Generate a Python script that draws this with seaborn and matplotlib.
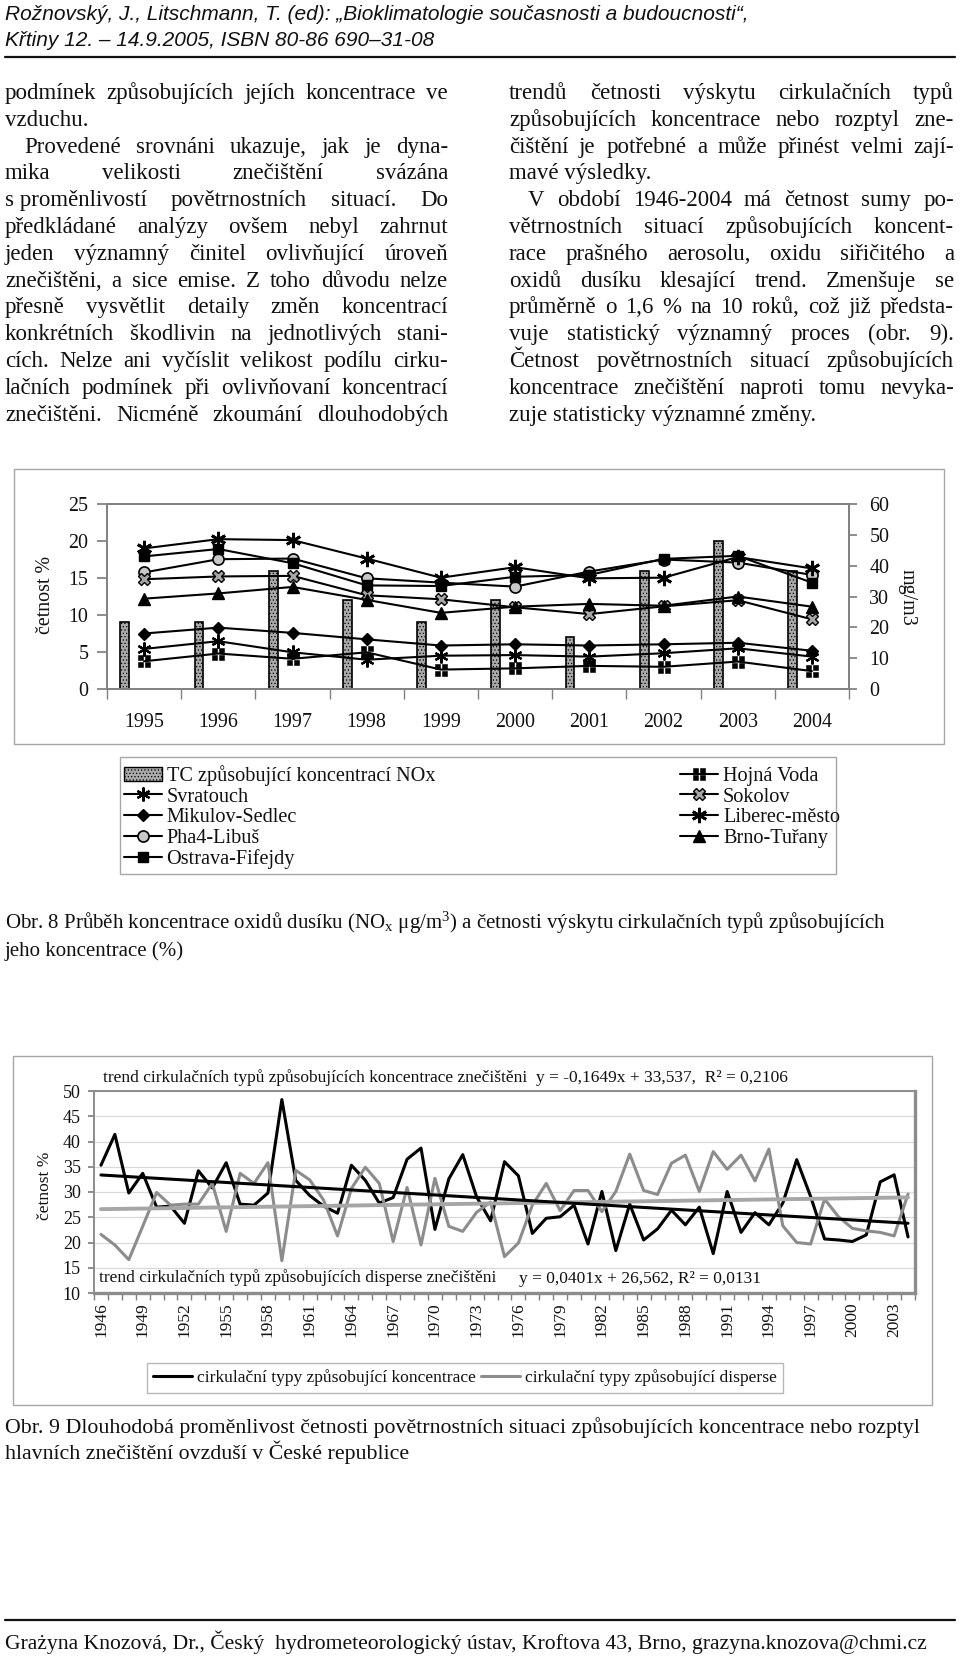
import numpy as np
import matplotlib
matplotlib.use("Agg")
import matplotlib.pyplot as plt
import seaborn as sns
from matplotlib.lines import Line2D
from matplotlib.patches import Patch, Rectangle
from matplotlib.path import Path

# ---- Obr. 8: 1995-2004 ----
years_8 = ["1995", "1996", "1997", "1998", "1999", "2000", "2001", "2002", "2003", "2004"]
tc_nox = [9, 9, 16, 12, 9, 12, 7, 16, 20, 16]          # cetnost % (left axis)
svratouch = [13.0, 15.5, 11.9, 9.5, 10.8, 11.0, 10.5, 11.6, 13.2, 10.5]
mikulov = [18.0, 19.9, 18.2, 16.1, 14.1, 14.5, 14.1, 14.5, 15.0, 12.4]
pha4 = [37.8, 42.1, 42.3, 35.9, 34.5, 33.2, 38.1, 42.0, 41.0, 37.0]
ostrava = [43.0, 45.4, 40.8, 33.6, 33.4, 36.4, 37.0, 42.2, 43.2, 34.5]
hojna = [9.0, 11.5, 9.8, 11.9, 6.3, 6.7, 7.5, 7.2, 8.9, 5.8]
sokolov = [35.6, 36.5, 36.7, 30.4, 29.1, 26.5, 24.3, 26.8, 28.8, 22.6]
liberec = [45.6, 48.6, 48.3, 42.3, 36.1, 39.5, 35.9, 36.1, 42.8, 39.1]
brno = [29.3, 31.0, 33.1, 28.9, 24.7, 26.7, 27.6, 27.0, 30.0, 26.7]

# ---- Obr. 9: 1946-2004 ----
years_9 = list(range(1946, 2005))
koncentrace = [35.3, 41.4, 29.8, 33.7, 27.0, 27.2, 23.8, 34.2, 30.8, 35.8,
               27.6, 27.4, 29.8, 48.3, 32.3, 29.3, 27.2, 25.8, 35.3, 32.3,
               27.8, 28.9, 36.5, 38.7, 22.6, 32.6, 37.4, 29.0, 24.3, 36.0,
               33.2, 21.8, 24.8, 25.1, 27.4, 19.7, 30.1, 18.4, 27.6, 20.5,
               22.7, 26.4, 23.5, 27.0, 17.8, 30.1, 22.0, 25.9, 23.5, 27.8,
               36.4, 29.1, 20.7, 20.5, 20.2, 21.5, 32.0, 33.4, 21.1]
disperse = [21.6, 19.5, 16.6, 23.2, 29.9, 27.4, 27.6, 27.6, 31.7, 22.2,
            33.7, 31.7, 35.8, 16.4, 34.3, 32.4, 28.4, 21.3, 30.7, 34.9,
            31.7, 20.2, 30.9, 19.5, 32.7, 23.2, 22.2, 26.0, 28.0, 17.2,
            19.9, 27.4, 31.7, 26.3, 30.3, 30.3, 26.1, 30.1, 37.5, 30.3,
            29.5, 35.7, 37.3, 30.1, 38.0, 34.5, 37.3, 32.2, 38.5, 23.3,
            20.0, 19.7, 28.6, 25.1, 22.8, 22.3, 22.0, 21.3, 29.6]
trend_koncentrace = (-0.1649, 33.537)
trend_disperse = (0.0401, 26.562)

left_lines = [
    "podmínek způsobujících jejích koncentrace ve",
    "vzduchu.",
    "Provedené srovnáni ukazuje, jak je dyna-",
    "mika velikosti znečištění svázána",
    "s\u00a0proměnlivostí povětrnostních situací. Do",
    "předkládané analýzy ovšem nebyl zahrnut",
    "jeden významný činitel ovlivňující úroveň",
    "znečištěni, a sice emise. Z toho důvodu nelze",
    "přesně vysvětlit detaily změn koncentrací",
    "konkrétních škodlivin na jednotlivých stani-",
    "cích. Nelze ani vyčíslit velikost podílu cirku-",
    "lačních podmínek při ovlivňovaní koncentrací",
    "znečištěni. Nicméně zkoumání dlouhodobých",
]
right_lines = [
    "trendů četnosti výskytu cirkulačních typů",
    "způsobujících koncentrace nebo rozptyl zne-",
    "čištění je potřebné a může přinést velmi zají-",
    "mavé výsledky.",
    "V období 1946-2004 má četnost sumy po-",
    "větrnostních situací způsobujících koncent-",
    "race prašného aerosolu, oxidu siřičitého a",
    "oxidů dusíku klesající trend. Zmenšuje se",
    "průměrně o 1,6 % na 10 roků, což již předsta-",
    "vuje statistický významný proces (obr. 9).",
    "Četnost povětrnostních situací způsobujících",
    "koncentrace znečištění naproti tomu nevyka-",
    "zuje statisticky významné změny.",
]

sns.set_theme(style="white")
plt.rcParams["font.family"] = ["Liberation Serif", "DejaVu Serif"]
plt.rcParams["mathtext.fontset"] = "custom"
plt.rcParams["mathtext.rm"] = "Liberation Serif"
plt.rcParams["mathtext.it"] = "Liberation Serif:italic"
plt.rcParams["hatch.color"] = "#7a7a7a"
plt.rcParams["hatch.linewidth"] = 0.5
plt.rcParams["text.color"] = "#111111"

W, H = 960, 1659
fig = plt.figure(figsize=(W / 100, H / 100), dpi=100)
rend = fig.canvas.get_renderer()


def fx(p):
    return p / W


def fy(p):
    return 1 - p / H


def rect(l, t, r, b):
    return [fx(l), fy(b), (r - l) / W, (b - t) / H]


def px_text(x, y, s, size, **kw):
    kw.setdefault("va", "baseline")
    return fig.text(fx(x), fy(y), s, fontsize=size, **kw)


def fit(t, width):
    w = t.get_window_extent(renderer=rend).width
    t.set_fontsize(t.get_fontsize() * width / w)
    return t.get_fontsize()


def justify(lines, x0, x1, y0, step, size, loose=(), indent=()):
    for k, line in enumerate(lines):
        y = round(y0 + step * k)
        xs = x0 + (19 if k in indent else 0)
        if k in loose:
            px_text(xs, y, line, size)
            continue
        words = line.split(" ")
        ts = [px_text(xs, y, w, size) for w in words]
        ws = [t.get_window_extent(renderer=rend).width for t in ts]
        gap = max((x1 - xs - sum(ws)) / (len(ws) - 1), 2.5)
        x = xs
        for t, w in zip(ts, ws):
            t.set_x(fx(x))
            x += w + gap


def box(l, t, r, b, color="#a6a6a6", lw=1.0):
    fig.add_artist(Rectangle((fx(l), fy(b)), (r - l) / W, (b - t) / H,
                             transform=fig.transFigure, fill=False,
                             edgecolor=color, linewidth=lw))


def rule(y, lw=1.6):
    fig.add_artist(Line2D([fx(5), fx(955)], [fy(y), fy(y)],
                          transform=fig.transFigure, color="#111111", linewidth=lw))


# ---- page header ----
hdr = ["Liberation Sans Narrow", "Liberation Sans"]
h1 = px_text(5, 20, "Rožnovský, J., Litschmann, T. (ed): „Bioklimatologie současnosti a budoucnosti“,",
             15, family=hdr, style="italic")
hs = fit(h1, 744)
px_text(5, 46, "Křtiny 12. – 14.9.2005, ISBN 80-86 690–31-08", hs, family=hdr, style="italic")
rule(57)

# ---- body text ----
justify(left_lines, 5, 448, 99, 26.8, 16.5, loose=(1,), indent=(2,))
justify(right_lines, 509, 954, 99, 26.8, 16.5, loose=(3, 12), indent=(4,))

# ---- Obr. 8 ----
box(14, 469, 944, 744)
ax1 = fig.add_axes(rect(107, 504, 849, 689))
ax2 = ax1.twinx()
xpos = np.arange(len(years_8))

sns.barplot(x=xpos - 0.26, y=tc_nox, native_scale=True, orient="x", width=0.12,
            color="#a9a9a9", saturation=1, edgecolor="black", linewidth=1.2,
            hatch=".....", errorbar=None, ax=ax1)

four_sq = Path.make_compound_path(*[
    Path([(a, b), (a + 0.8, b), (a + 0.8, b + 0.8), (a, b + 0.8), (a, b)],
         [Path.MOVETO, Path.LINETO, Path.LINETO, Path.LINETO, Path.CLOSEPOLY])
    for a in (-1, 0.2) for b in (-1, 0.2)])

base = dict(color="black", linewidth=1.5, markerfacecolor="black",
            markeredgecolor="black", markeredgewidth=1.0)
styles = {
    "Svratouch": dict(marker=(6, 2, 0), markersize=10, markeredgewidth=1.6),
    "Mikulov-Sedlec": dict(marker="D", markersize=6.5),
    "Pha4-Libuš": dict(marker="o", markersize=8, markerfacecolor="#c8c8c8", markeredgewidth=1.2),
    "Ostrava-Fifejdy": dict(marker="s", markersize=7.5),
    "Hojná Voda": dict(marker=four_sq, markersize=8, markeredgewidth=0.4),
    "Sokolov": dict(marker="X", markersize=9, markerfacecolor="#a6a6a6"),
    "Liberec-město": dict(marker=(6, 2, 0), markersize=11, markeredgewidth=2.0),
    "Brno-Tuřany": dict(marker="^", markersize=8),
}
series = [("Svratouch", svratouch), ("Mikulov-Sedlec", mikulov), ("Pha4-Libuš", pha4),
          ("Ostrava-Fifejdy", ostrava), ("Hojná Voda", hojna), ("Sokolov", sokolov),
          ("Liberec-město", liberec), ("Brno-Tuřany", brno)]
for name, vals in series:
    sns.lineplot(x=xpos, y=vals, ax=ax2, legend=False, **{**base, **styles[name]})

ax1.set_xlim(-0.5, len(years_8) - 0.5)
ax1.set_ylim(0, 25)
ax2.set_ylim(0, 60)
ax1.set_yticks(range(0, 26, 5))
ax2.set_yticks(range(0, 61, 10))
ax1.set_xticks(xpos)
ax1.set_xticklabels(years_8)
ax1.set_xticks(np.arange(-0.5, len(years_8), 1), minor=True)
ax1.tick_params(axis="x", which="major", length=0, pad=17, labelsize=14.4, labelcolor="#111111")
ax1.tick_params(axis="x", which="minor", bottom=True, length=7, color="#808080", direction="out")
ax1.tick_params(axis="y", left=True, length=7, color="#808080", direction="out",
                labelsize=14.4, pad=6.5, labelcolor="#111111")
ax2.tick_params(axis="y", right=True, length=6, color="#808080", direction="out",
                labelsize=14.4, pad=8.6, labelcolor="#111111")
for ax in (ax1, ax2):
    ax.set_xlabel("")
    ax.set_ylabel("")
    for s in ax.spines.values():
        s.set_color("#808080")
        s.set_linewidth(1.2)

px_text(45, 595, "četnost %", 14.4, rotation=90, ha="center", va="center")
px_text(907, 597, "mg/m3", 14.4, rotation=270, ha="center", va="center")

# legend of Obr. 8
h_leg = [Patch(facecolor="#a9a9a9", edgecolor="black", hatch=".....", linewidth=1.0)]
h_leg += [Line2D([], [], **{**base, **styles[n]}) for n, _ in series]
l_leg = ["TC způsobující koncentrací NOx"] + [n for n, _ in series]
fig.legend(h_leg, l_leg, ncol=2, loc="upper left", bbox_to_anchor=(fx(124), fy(765)),
           frameon=False, fontsize=14.6, labelspacing=0.07, handlelength=1.85,
           handletextpad=0.25, columnspacing=12.1, borderpad=0, borderaxespad=0)
box(120, 757, 836, 874)

cap = px_text(5, 929, "Obr. 8 Průběh koncentrace oxidů dusíku (NO$_\\mathrm{x}$ μg/m$^\\mathrm{3}$) "
                     "a četnosti výskytu cirkulačních typů způsobujících", 16)
cs = fit(cap, 882)
px_text(5, 956, "jeho koncentrace (%)", cs)

# ---- Obr. 9 ----
box(13, 1056, 932, 1405)
ax3 = fig.add_axes(rect(94, 1091, 915, 1293))
xi = np.arange(len(years_9))
sns.lineplot(x=xi, y=koncentrace, ax=ax3, color="black", linewidth=2.2)
sns.lineplot(x=xi, y=disperse, ax=ax3, color="#8c8c8c", linewidth=2.2)
sns.lineplot(x=xi, y=trend_disperse[0] * (xi + 1) + trend_disperse[1], ax=ax3,
             color="#a6a6a6", linewidth=2.8)
sns.lineplot(x=xi, y=trend_koncentrace[0] * (xi + 1) + trend_koncentrace[1], ax=ax3,
             color="black", linewidth=2.2)

ax3.set_xlim(-0.5, len(years_9) - 0.5)
ax3.set_ylim(10, 50)
ax3.set_yticks(range(10, 51, 5))
ax3.set_xticks(xi)
ax3.set_xticklabels([str(y) if k % 3 == 0 else "" for k, y in enumerate(years_9)], rotation=90)
ax3.set_xticks(np.arange(-0.5, len(years_9), 1), minor=True)
ax3.tick_params(axis="x", which="major", length=0, pad=7, labelsize=12.5, labelcolor="#111111")
ax3.tick_params(axis="x", which="minor", bottom=True, length=5, color="#808080", direction="out")
ax3.tick_params(axis="y", left=True, length=4, color="#808080", direction="out",
                labelsize=13, pad=5.5, labelcolor="#111111")
ax3.yaxis.grid(True, color="#d9d9d9", linewidth=0.9)
ax3.set_axisbelow(True)
ax3.set_xlabel("")
ax3.set_ylabel("")
for side, s in ax3.spines.items():
    s.set_color("#8c8c8c")
    s.set_linewidth(2.4 if side in ("right", "bottom") else 1.4)

px_text(45, 1186, "četnost %", 12.5, rotation=90, ha="center", va="center")
a1 = px_text(103, 1082, "trend cirkulačních typů způsobujících koncentrace znečištěni  "
                        "y = -0,1649x + 33,537,  R² = 0,2106", 12)
fit(a1, 683)
a2 = px_text(99, 1282, "trend cirkulačních typů způsobujících disperse znečištěni", 12)
fit(a2, 398)
a3 = px_text(519, 1283, "y = 0,0401x + 26,562, R² = 0,0131", 12.5)
fit(a3, 243)

leg2 = fig.legend([Line2D([], [], color="black", linewidth=2.2),
                   Line2D([], [], color="#8c8c8c", linewidth=2.2)],
                  ["cirkulační typy způsobující koncentrace", "cirkulační typy způsobující disperse"],
                  ncol=2, loc="center left", bbox_to_anchor=(fx(147), fy(1378)),
                  fontsize=12.6, frameon=True, fancybox=False, edgecolor="#a6a6a6",
                  handlelength=2.2, handletextpad=0.3, columnspacing=0.3,
                  borderpad=0.35, borderaxespad=0)
leg2.get_frame().set_linewidth(1.0)

cap2 = px_text(5, 1433, "Obr. 9 Dlouhodobá proměnlivost četnosti povětrnostních situaci "
                        "způsobujících koncentrace nebo rozptyl", 16)
cs2 = fit(cap2, 913)
px_text(5, 1459, "hlavních znečištění ovzduší v České republice", cs2)

# ---- footer ----
rule(1620)
ft = px_text(5, 1649, "Grażyna Knozová, Dr., Český  hydrometeorologický ústav, Kroftova 43, "
                      "Brno, grazyna.knozova@chmi.cz", 16)
fit(ft, 923)

fig.savefig("out.png", dpi=100)
